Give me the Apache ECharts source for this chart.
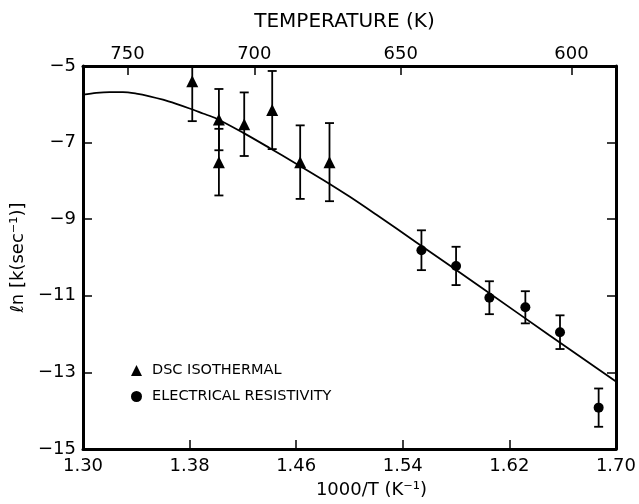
<!DOCTYPE html>
<html><head><meta charset="utf-8">
<script src="https://cdn.jsdelivr.net/npm/echarts@6/dist/echarts.min.js"></script>
<style>html,body{margin:0;padding:0;background:#fff}#c{width:639px;height:504px}</style>
</head><body><div id="c"></div>
<script>
// DSC isothermal points (1000/T, ln k, half error)
const dscX = [1.382, 1.402, 1.402, 1.421, 1.442, 1.463, 1.485];
const dscY = [-5.40, -6.40, -7.51, -6.52, -6.15, -7.51, -7.51];
const dscErr = [1.04, 0.80, 0.87, 0.83, 1.02, 0.96, 1.02];
// Electrical resistivity points
const erX = [1.554, 1.580, 1.605, 1.632, 1.658, 1.687];
const erY = [-9.81, -10.22, -11.05, -11.30, -11.95, -13.92];
const erErr = [0.52, 0.50, 0.43, 0.42, 0.44, 0.50];
// Fitted curve
const fitX = [1.30,1.31,1.32,1.33,1.34,1.35,1.36,1.37,1.38,1.39,1.40,1.42,1.44,1.46,1.48,1.50,1.52,1.55,1.60,1.65,1.70];
const fitY = [-5.75,-5.70,-5.68,-5.68,-5.72,-5.79,-5.88,-5.99,-6.11,-6.24,-6.37,-6.74,-7.14,-7.55,-7.97,-8.41,-8.88,-9.60,-10.81,-12.03,-13.24];
// Tick labels
const xTicks = [1.30, 1.38, 1.46, 1.54, 1.62, 1.70];
const yTicks = [-15, -13, -11, -9, -7, -5];
const tempTicks = [750, 700, 650, 600];

const FONT = 'DejaVu Sans';
const chart = echarts.init(document.getElementById('c'), null, {renderer: 'canvas'});

function errSeries(xs, ys, es) {
  return {
    type: 'custom',
    xAxisIndex: 0, yAxisIndex: 0,
    data: xs.map((x, i) => [x, ys[i] - es[i], ys[i] + es[i]]),
    clip: true,
    silent: true,
    z: 3,
    encode: {x: 0, y: [1, 2]},
    renderItem: (params, api) => {
      const lo = api.coord([api.value(0), api.value(1)]);
      const hi = api.coord([api.value(0), api.value(2)]);
      const w = 4.5;
      const st = {stroke: '#000', lineWidth: 1.8};
      return {type: 'group', children: [
        {type: 'line', shape: {x1: lo[0], y1: lo[1], x2: hi[0], y2: hi[1]}, style: st},
        {type: 'line', shape: {x1: lo[0] - w, y1: lo[1], x2: lo[0] + w, y2: lo[1]}, style: st},
        {type: 'line', shape: {x1: hi[0] - w, y1: hi[1], x2: hi[0] + w, y2: hi[1]}, style: st}
      ]};
    }
  };
}

const axLine = {show: true, onZero: false, lineStyle: {color: '#000', width: 3}};
const tickStyle = {color: '#000', width: 1.5};
const lab = {color: '#000', fontSize: 18, fontFamily: FONT};

chart.setOption({
  animation: false,
  backgroundColor: '#fff',
  grid: {left: 83, right: 22, top: 66, bottom: 51, containLabel: false},
  legend: {
    orient: 'vertical', left: 126, top: 358, itemWidth: 11, itemHeight: 11, itemGap: 11,
    data: ['DSC ISOTHERMAL', 'ELECTRICAL RESISTIVITY'],
    textStyle: {color: '#000', fontSize: 14.5, fontFamily: FONT, padding: [0, 0, 0, 5]}
  },
  xAxis: [
    {
      type: 'value', position: 'bottom', min: 1.3, max: 1.7,
      axisLine: axLine,
      axisTick: {show: true, inside: true, length: 9, customValues: xTicks, lineStyle: tickStyle},
      axisLabel: Object.assign({customValues: xTicks, formatter: v => v.toFixed(2), margin: 8}, lab),
      splitLine: {show: false},
      name: '1000/T (K⁻¹)', nameLocation: 'middle', nameGap: 32,
      nameTextStyle: {color: '#000', fontSize: 18, fontFamily: FONT, padding: [0, 0, 0, 44]}
    },
    {
      type: 'value', position: 'top', min: 1.3, max: 1.7,
      axisLine: axLine,
      axisTick: {show: true, inside: true, length: 9, customValues: tempTicks.map(t => 1000 / t), lineStyle: tickStyle},
      axisLabel: Object.assign({customValues: tempTicks.map(t => 1000 / t), formatter: v => String(Math.round(1000 / v)), margin: 3}, lab),
      splitLine: {show: false},
      name: 'TEMPERATURE (K)', nameLocation: 'middle', nameGap: 34,
      nameTextStyle: {color: '#000', fontSize: 20, fontFamily: FONT, padding: [0, 10, 0, 0]}
    }
  ],
  yAxis: [
    {
      type: 'value', position: 'left', min: -15, max: -5,
      axisLine: axLine,
      axisTick: {show: true, inside: true, length: 9, customValues: yTicks, lineStyle: tickStyle},
      axisLabel: Object.assign({customValues: yTicks, formatter: v => '−' + Math.abs(v), margin: 7}, lab),
      splitLine: {show: false},
      name: 'ℓn [k(sec⁻¹)]', nameLocation: 'middle', nameGap: 52, nameRotate: 90,
      nameTextStyle: {color: '#000', fontSize: 18, fontFamily: FONT}
    },
    {
      type: 'value', position: 'right', min: -15, max: -5,
      axisLine: axLine,
      axisTick: {show: true, inside: true, length: 9, customValues: [-13, -11, -9, -7], lineStyle: tickStyle},
      axisLabel: {show: false},
      splitLine: {show: false}
    }
  ],
  series: [
    {
      type: 'line', name: 'fit', xAxisIndex: 0, yAxisIndex: 0,
      data: fitX.map((x, i) => [x, fitY[i]]),
      showSymbol: false, smooth: 0.3, clip: true, silent: true,
      lineStyle: {color: '#000', width: 1.8}, z: 2
    },
    errSeries(dscX, dscY, dscErr),
    errSeries(erX, erY, erErr),
    {
      type: 'scatter', name: 'DSC ISOTHERMAL', xAxisIndex: 0, yAxisIndex: 0,
      data: dscX.map((x, i) => [x, dscY[i]]),
      symbol: 'triangle', symbolSize: 12, itemStyle: {color: '#000', opacity: 1}, z: 4
    },
    {
      type: 'scatter', name: 'ELECTRICAL RESISTIVITY', xAxisIndex: 0, yAxisIndex: 0,
      data: erX.map((x, i) => [x, erY[i]]),
      symbol: 'circle', symbolSize: 10, itemStyle: {color: '#000', opacity: 1}, z: 4
    }
  ]
});
</script>
</body></html>
